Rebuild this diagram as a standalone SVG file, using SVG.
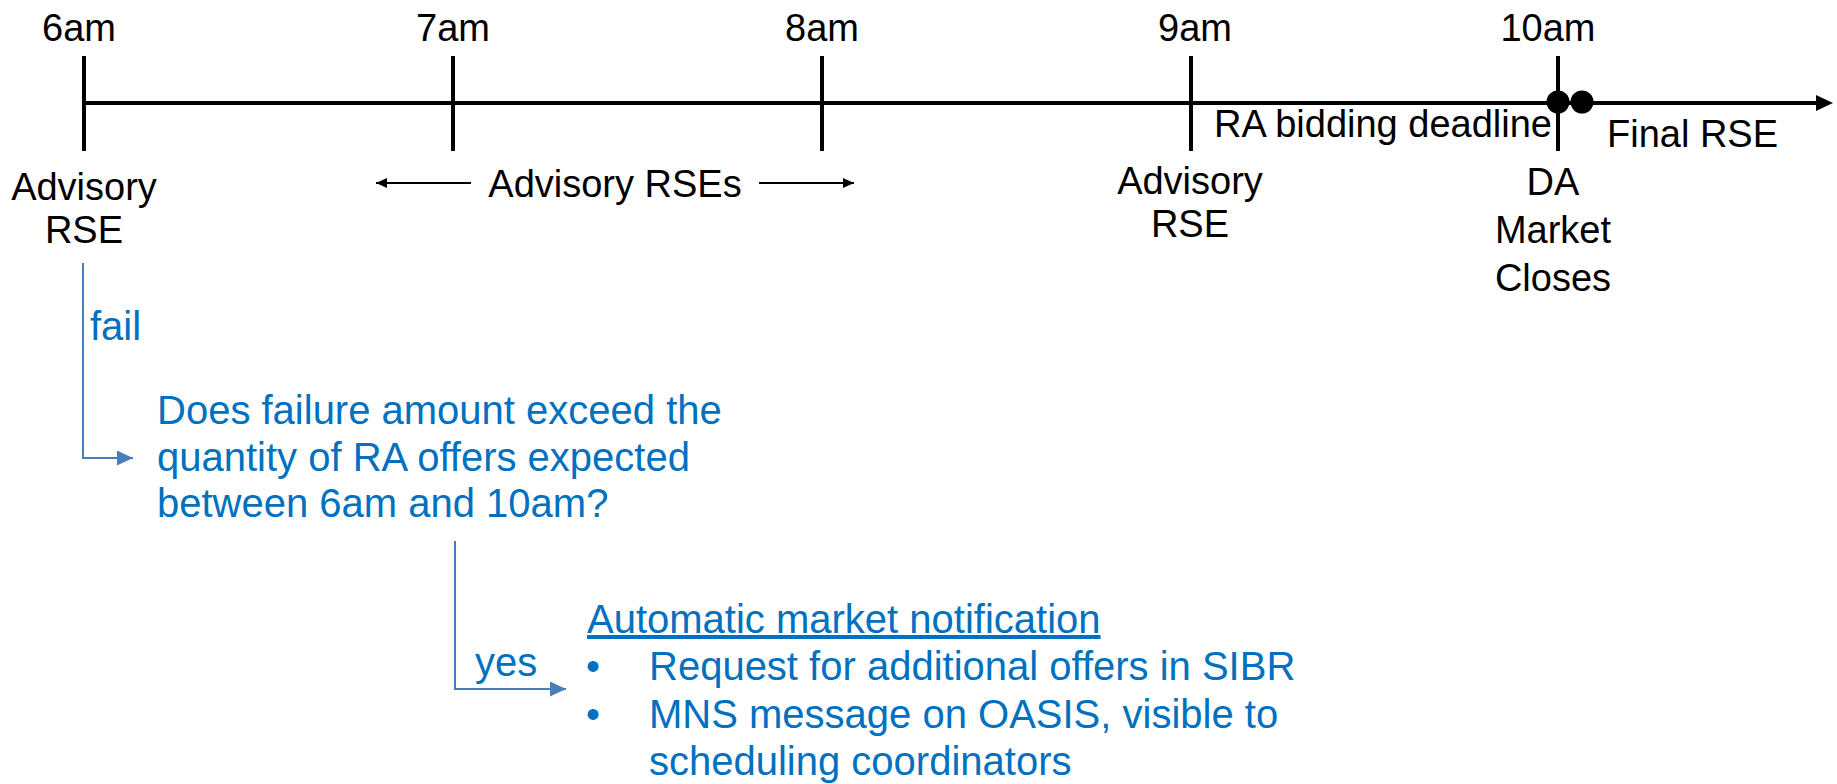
<svg xmlns="http://www.w3.org/2000/svg" width="1837" height="784" viewBox="0 0 1837 784">
<defs>
<style>
.blk{font-family:"Liberation Sans",Arial,sans-serif;font-size:38px;fill:#000}
.blu{font-family:"Liberation Sans",Arial,sans-serif;font-size:40px;fill:#0070C0}
.mid{text-anchor:middle}
.tick{stroke:#000;stroke-width:4;fill:none}
.conn{stroke:#4A7EBB;stroke-width:2;fill:none}
</style>
<marker id="bArrow" markerWidth="16" markerHeight="15" refX="16" refY="7.5" orient="auto" markerUnits="userSpaceOnUse">
<path d="M0,0 L16,7.5 L0,15 Z" fill="#4A7EBB"/>
</marker>
<marker id="kArrow" markerWidth="11" markerHeight="10" refX="11" refY="5" orient="auto" markerUnits="userSpaceOnUse">
<path d="M0,0 L11,5 L0,10 Z" fill="#000"/>
</marker>
</defs>
<rect width="1837" height="784" fill="#fff"/>

<g id="timeline">
<line x1="84" y1="103" x2="1818" y2="103" stroke="#000" stroke-width="4"/>
<path d="M1816,95 L1833,103 L1816,111 Z" fill="#000"/>
<line class="tick" x1="84" y1="56" x2="84" y2="151"/>
<line class="tick" x1="453" y1="56" x2="453" y2="151"/>
<line class="tick" x1="822" y1="56" x2="822" y2="151"/>
<line class="tick" x1="1191" y1="56" x2="1191" y2="151"/>
<line class="tick" x1="1558" y1="56" x2="1558" y2="151"/>
<circle cx="1558" cy="102" r="11.5" fill="#000"/>
<circle cx="1582" cy="102" r="11.5" fill="#000"/>
</g>

<g id="hour-labels">
<text class="blk mid" x="79" y="41">6am</text>
<text class="blk mid" x="453" y="41">7am</text>
<text class="blk mid" x="822" y="41">8am</text>
<text class="blk mid" x="1195" y="41">9am</text>
<text class="blk mid" x="1548" y="41">10am</text>
</g>

<g id="advisory-rse-6am">
<text class="blk mid" x="84" y="200">Advisory</text>
<text class="blk mid" x="84" y="243">RSE</text>
</g>

<g id="advisory-rses">
<text class="blk mid" x="615" y="197">Advisory RSEs</text>
<line x1="471" y1="183" x2="376" y2="183" stroke="#000" stroke-width="2" marker-end="url(#kArrow)"/>
<line x1="759" y1="183" x2="854" y2="183" stroke="#000" stroke-width="2" marker-end="url(#kArrow)"/>
</g>

<g id="advisory-rse-9am">
<text class="blk mid" x="1190" y="194">Advisory</text>
<text class="blk mid" x="1190" y="237">RSE</text>
</g>

<g id="ra-deadline">
<text class="blk" x="1552" y="137" text-anchor="end">RA bidding deadline</text>
</g>

<g id="final-rse">
<text class="blk" x="1607" y="147">Final RSE</text>
</g>

<g id="da-market-closes">
<text class="blk mid" x="1553" y="195">DA</text>
<text class="blk mid" x="1553" y="243">Market</text>
<text class="blk mid" x="1553" y="291">Closes</text>
</g>

<g id="question">
<text class="blu" x="157" y="424">Does failure amount exceed the</text>
<text class="blu" x="157" y="471">quantity of RA offers expected</text>
<text class="blu" x="157" y="517">between 6am and 10am?</text>
</g>

<g id="notification">
<text class="blu" x="587" y="633" text-decoration="underline">Automatic market notification</text>
<text class="blu" x="586" y="680">•</text>
<text class="blu" x="649" y="680">Request for additional offers in SIBR</text>
<text class="blu" x="586" y="728">•</text>
<text class="blu" x="649" y="728">MNS message on OASIS, visible to</text>
<text class="blu" x="649" y="775">scheduling coordinators</text>
</g>

<g id="connectors">
<polyline class="conn" points="83,263 83,458 133,458" marker-end="url(#bArrow)"/>
<text class="blu" x="90" y="340">fail</text>
<polyline class="conn" points="455,541 455,689 566,689" marker-end="url(#bArrow)"/>
<text class="blu" x="475" y="676">yes</text>
</g>
</svg>
